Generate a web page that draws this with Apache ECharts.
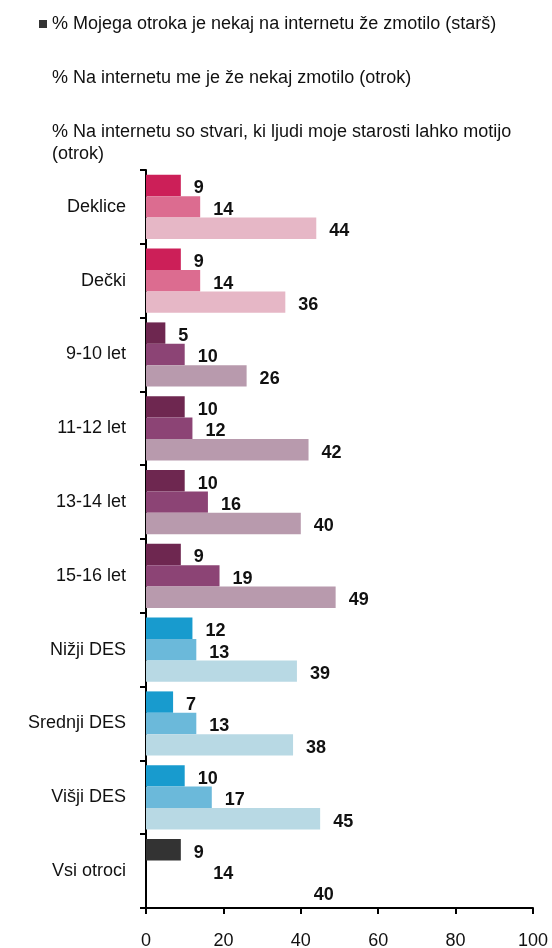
<!DOCTYPE html>
<html>
<head>
<meta charset="utf-8">
<script src="https://cdn.jsdelivr.net/npm/echarts@6/dist/echarts.min.js"></script>
<style>
  html, body { margin: 0; padding: 0; background: #fff; }
  #chart { width: 552px; height: 948px; }
</style>
</head>
<body>
<div id="chart"></div>
<script>
// podatki
const categories = ["Deklice", "Dečki", "9-10 let", "11-12 let", "13-14 let", "15-16 let", "Nižji DES", "Srednji DES", "Višji DES", "Vsi otroci"];
const seriesNames = [
  "% Mojega otroka je nekaj na internetu že zmotilo (starš)",
  "% Na internetu me je že nekaj zmotilo (otrok)",
  "% Na internetu so stvari, ki ljudi moje starosti lahko motijo\n(otrok)"
];
const parentUpset = [9, 9, 5, 10, 10, 9, 12, 7, 10, 9];
const childUpset = [14, 14, 10, 12, 16, 19, 13, 13, 17, 14];
const childThings = [44, 36, 26, 42, 40, 49, 39, 38, 45, 40];
const xTicks = [0, 20, 40, 60, 80, 100];

// barve po skupinah (spol, starost, DES, vsi)
const pink = ["#cc1f58", "#dc6c90", "#e6b7c6"];
const plum = ["#6e2750", "#8c4475", "#b89aad"];
const blue = ["#189bce", "#6bb9da", "#b8d9e4"];
const all = ["#333333", "rgba(0,0,0,0)", "rgba(0,0,0,0)"];
const groupColors = [pink, pink, plum, plum, plum, plum, blue, blue, blue, all];

function items(values, k) {
  return values.map((v, i) => ({ value: v, itemStyle: { color: groupColors[i][k] } }));
}

const labelStyle = {
  show: true,
  position: "right",
  distance: 13,
  offset: [0, 3],
  color: "#111",
  fontWeight: "bold",
  fontSize: 18,
  fontFamily: "Liberation Sans, Arial, sans-serif"
};

const myChart = echarts.init(document.getElementById("chart"));
const option = {
  animation: false,
  textStyle: { fontFamily: "Liberation Sans, Arial, sans-serif" },
  legend: {
    orient: "vertical",
    left: 34,
    top: 8,
    itemWidth: 8,
    itemHeight: 8,
    itemGap: 32,
    selectedMode: false,
    textStyle: { fontSize: 18, color: "#111", lineHeight: 22 },
    data: [
      { name: seriesNames[0], icon: "rect", itemStyle: { color: "#333333" } },
      { name: seriesNames[1], icon: "rect", itemStyle: { color: "rgba(0,0,0,0)" } },
      { name: seriesNames[2], icon: "rect", itemStyle: { color: "rgba(0,0,0,0)" } }
    ]
  },
  grid: { left: 146, right: 19, top: 170, bottom: 40, outerBoundsMode: "none" },
  xAxis: {
    type: "value",
    min: 0,
    max: 100,
    interval: 20,
    axisLine: { show: true, lineStyle: { color: "#000", width: 2 } },
    axisTick: { show: true, length: 6, lineStyle: { color: "#000", width: 2 } },
    splitLine: { show: false },
    axisLabel: {
      margin: 24,
      fontSize: 18,
      color: "#111",
      formatter: v => (xTicks.includes(v) ? String(v) : "")
    }
  },
  yAxis: {
    type: "category",
    inverse: true,
    data: categories,
    axisLine: { show: true, lineStyle: { color: "#000", width: 2 } },
    axisTick: { show: true, length: 6, lineStyle: { color: "#000", width: 2 } },
    axisLabel: { margin: 20, fontSize: 18, color: "#111" }
  },
  series: [
    {
      name: seriesNames[0],
      type: "bar",
      barGap: "0%",
      barCategoryGap: "13%",
      data: items(parentUpset, 0),
      label: labelStyle
    },
    {
      name: seriesNames[1],
      type: "bar",
      data: items(childUpset, 1),
      label: labelStyle
    },
    {
      name: seriesNames[2],
      type: "bar",
      data: items(childThings, 2),
      label: labelStyle
    }
  ]
};
myChart.setOption(option);
</script>
</body>
</html>
